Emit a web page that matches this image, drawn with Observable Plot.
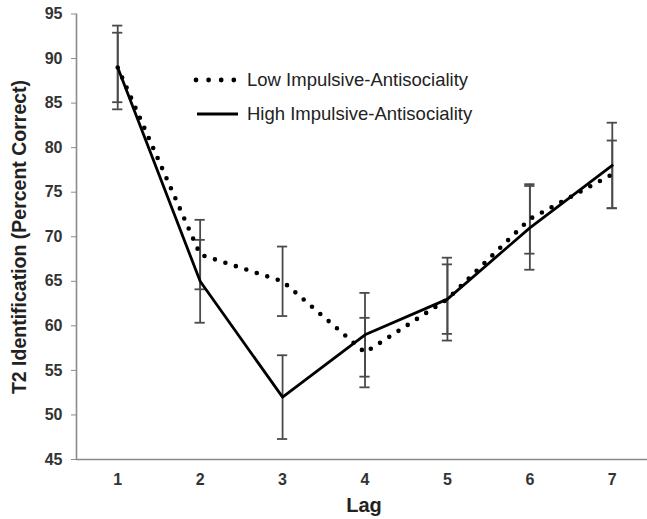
<!DOCTYPE html>
<html>
<head>
<meta charset="utf-8">
<script src="https://cdn.jsdelivr.net/npm/d3@7"></script>
<script src="https://cdn.jsdelivr.net/npm/@observablehq/plot@0.6"></script>
<style>
  html, body { margin: 0; padding: 0; background: #fff; }
  #chart svg { display: block; }
</style>
</head>
<body>
<div id="chart"></div>
<script>
const lags = [1, 2, 3, 4, 5, 6, 7];
const lowValues = [89, 68, 65, 57, 63, 72, 77];
const lowErrors = [3.9, 3.9, 3.9, 3.9, 3.9, 3.9, 3.8];
const highValues = [89, 65, 52, 59, 63, 71, 78];
const highErrors = [4.7, 4.65, 4.7, 4.7, 4.65, 4.7, 4.8];
const yTicks = [45, 50, 55, 60, 65, 70, 75, 80, 85, 90, 95];
const seriesNames = ["Low Impulsive-Antisociality", "High Impulsive-Antisociality"];
const xLabel = "Lag";
const yLabel = "T2 Identification (Percent Correct)";

const low = lags.map((lag, i) => ({lag, v: lowValues[i], lo: lowValues[i] - lowErrors[i], hi: lowValues[i] + lowErrors[i]}));
const high = lags.map((lag, i) => ({lag, v: highValues[i], lo: highValues[i] - highErrors[i], hi: highValues[i] + highErrors[i]}));

const W = 647, H = 519;
const capHalf = 0.062; // half cap width in lag units
const barColor = "#4a4a4a";

function errorMarks(data) {
  return [
    Plot.ruleX(data, {x: "lag", y1: "lo", y2: "hi", stroke: barColor, strokeWidth: 1.8}),
    Plot.ruleY(data, {y: "hi", x1: d => d.lag - capHalf, x2: d => d.lag + capHalf, stroke: barColor, strokeWidth: 1.8}),
    Plot.ruleY(data, {y: "lo", x1: d => d.lag - capHalf, x2: d => d.lag + capHalf, stroke: barColor, strokeWidth: 1.8})
  ];
}

const plot = Plot.plot({
  width: W,
  height: H,
  marginLeft: 76,
  marginRight: 0,
  marginTop: 13,
  marginBottom: 60,
  style: {fontFamily: "'Liberation Sans', Arial, sans-serif", background: "#fff"},
  x: {domain: [0.5, 7.5], range: [76, 653], label: null},
  y: {domain: [45, 95], range: [459, 13.5], label: null},
  marks: [
    Plot.ruleY([45], {stroke: "#8a8a8a", strokeWidth: 1.6}),
    Plot.ruleX([0.5], {y1: 45, y2: 95, stroke: "#8a8a8a", strokeWidth: 1.6}),
    Plot.axisY(yTicks, {tickSize: 5, tickPadding: 9, stroke: "#8a8a8a", fill: "#333", fontSize: 16, fontWeight: "bold"}),
    Plot.axisX(lags, {tickSize: 0, tickPadding: 14, fill: "#333", fontSize: 16, fontWeight: "bold"}),
    ...errorMarks(low),
    ...errorMarks(high),
    Plot.line(low, {x: "lag", y: "v", stroke: "#000", strokeWidth: 4.6, strokeDasharray: "0 11", strokeLinecap: "round"}),
    Plot.line(high, {x: "lag", y: "v", stroke: "#000", strokeWidth: 2.8})
  ]
});

document.getElementById("chart").appendChild(plot);

const svg = d3.select(plot);
// axis titles
svg.append("text")
  .attr("x", 364).attr("y", 512)
  .attr("text-anchor", "middle")
  .attr("font-size", 20).attr("font-weight", "bold").attr("fill", "#222")
  .text(xLabel);
svg.append("text")
  .attr("transform", "translate(26,237) rotate(-90)")
  .attr("text-anchor", "middle")
  .attr("font-size", 19.5).attr("font-weight", "bold").attr("fill", "#222")
  .text(yLabel);

// legend
const leg = svg.append("g").attr("text-anchor", "start");
leg.append("line").attr("x1", 196).attr("x2", 234).attr("y1", 80).attr("y2", 80)
  .attr("stroke", "#000").attr("stroke-width", 4.8).attr("stroke-dasharray", "0 12.6").attr("stroke-linecap", "round");
leg.append("text").attr("x", 247).attr("y", 80).attr("dy", "0.35em").attr("text-anchor", "start")
  .attr("font-size", 18.5).attr("fill", "#222").text(seriesNames[0]);
leg.append("line").attr("x1", 197).attr("x2", 238).attr("y1", 114).attr("y2", 114)
  .attr("stroke", "#000").attr("stroke-width", 2.8);
leg.append("text").attr("x", 247).attr("y", 114).attr("dy", "0.35em").attr("text-anchor", "start")
  .attr("font-size", 18.5).attr("fill", "#222").text(seriesNames[1]);
</script>
</body>
</html>
